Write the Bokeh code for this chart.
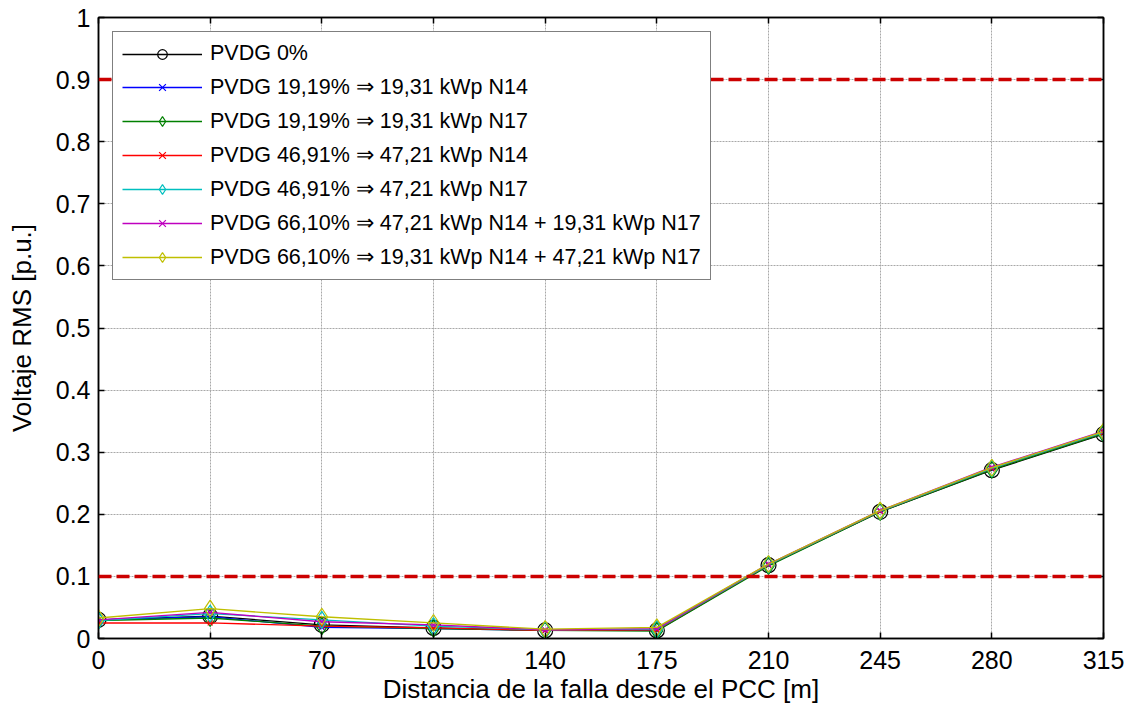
from bokeh.plotting import figure
from bokeh.models import Range1d, LinearAxis, FixedTicker, Legend, LegendItem, Span
from bokeh.embed import file_html
from bokeh.resources import INLINE

x = [0, 35, 70, 105, 140, 175, 210, 245, 280, 315]
s_pv0 = [0.030, 0.036, 0.022, 0.017, 0.013, 0.013, 0.118, 0.204, 0.271, 0.329]
s_19_n14 = [0.030, 0.035, 0.018, 0.016, 0.013, 0.013, 0.118, 0.205, 0.273, 0.331]
s_19_n17 = [0.029, 0.033, 0.020, 0.016, 0.013, 0.012, 0.117, 0.204, 0.272, 0.330]
s_47_n14 = [0.025, 0.025, 0.020, 0.017, 0.013, 0.014, 0.119, 0.205, 0.274, 0.332]
s_47_n17 = [0.029, 0.040, 0.030, 0.020, 0.014, 0.015, 0.119, 0.205, 0.274, 0.332]
s_66_a = [0.030, 0.042, 0.027, 0.022, 0.014, 0.016, 0.120, 0.206, 0.276, 0.334]
s_66_b = [0.033, 0.048, 0.035, 0.025, 0.015, 0.018, 0.120, 0.206, 0.275, 0.333]
limits = [0.1, 0.9]

labels = ["PVDG 0%",
          "PVDG 19,19% \u21d2 19,31 kWp N14",
          "PVDG 19,19% \u21d2 19,31 kWp N17",
          "PVDG 46,91% \u21d2 47,21 kWp N14",
          "PVDG 46,91% \u21d2 47,21 kWp N17",
          "PVDG 66,10% \u21d2 47,21 kWp N14 + 19,31 kWp N17",
          "PVDG 66,10% \u21d2 19,31 kWp N14 + 47,21 kWp N17"]
series = [s_pv0, s_19_n14, s_19_n17, s_47_n14, s_47_n17, s_66_a, s_66_b]
colors = ["#000000", "#0000ff", "#008000", "#ff0000", "#00bfbf", "#bf00bf", "#bfbf00"]
markers = ["circle", "x", "diamond", "x", "diamond", "x", "diamond"]
sizes = [15, 7, 17, 7, 17, 7, 17]

FONT = "Liberation Sans"

p = figure(width=1133, height=710, output_backend="svg", toolbar_location=None,
           x_range=Range1d(0, 315), y_range=Range1d(0, 1),
           min_border_left=98, min_border_right=30, min_border_top=17, min_border_bottom=72)
p.outline_line_color = "black"
p.outline_line_width = 1.5
p.background_fill_color = "white"
p.border_fill_color = "white"

p.xaxis.ticker = FixedTicker(ticks=x)
p.yaxis.ticker = FixedTicker(ticks=[i / 10 for i in range(11)])
p.yaxis.major_label_overrides = {0: "0", 1: "1"}
for ax in [p.xaxis[0], p.yaxis[0]]:
    ax.major_tick_in = 6
    ax.major_tick_out = 0
    ax.minor_tick_in = 0
    ax.minor_tick_out = 0
    ax.major_label_text_font = FONT
    ax.major_label_text_font_size = "25px"
    ax.major_label_text_color = "black"
    ax.axis_label_text_font = FONT
    ax.axis_label_text_font_size = "26px"
    ax.axis_label_text_font_style = "normal"
    ax.axis_label_text_color = "black"
    ax.axis_line_width = 1.5
    ax.major_tick_line_width = 1.5
p.xaxis.axis_label = "Distancia de la falla desde el PCC [m]"
p.yaxis.axis_label = "Voltaje RMS [p.u.]"
p.xaxis.major_label_standoff = 12
p.yaxis.major_label_standoff = 8
p.xaxis.axis_label_standoff = 2
p.yaxis.axis_label_standoff = 16

for loc, tk in [("right", [i / 10 for i in range(11)]), ("above", x)]:
    ax = LinearAxis(ticker=FixedTicker(ticks=tk), major_label_text_font_size="0px",
                    major_tick_in=6, major_tick_out=0, minor_tick_in=0, minor_tick_out=0,
                    axis_line_width=1.5, major_tick_line_width=1.5, major_label_standoff=0)
    p.add_layout(ax, loc)

p.grid.grid_line_color = "#a8a8a8"
p.grid.grid_line_dash = "2 1"
p.grid.grid_line_width = 1

for lv in limits:
    p.add_layout(Span(location=lv, dimension="width", line_color="#cc0000",
                      line_width=3.5, line_dash="13 5"))

items = []
for lab, s, c, m, sz in zip(labels, series, colors, markers, sizes):
    r1 = p.line(x, s, line_color=c, line_width=1.3)
    r2 = p.scatter(x, s, marker=m, size=sz, line_color=c, fill_color=None, line_width=1.2)
    items.append(LegendItem(label=lab, renderers=[r1, r2]))

leg = Legend(items=items, location="top_left", glyph_width=80, glyph_height=24,
             label_text_font=FONT, label_text_font_size="21.5px", label_text_color="black",
             spacing=8, padding=9, margin=14, label_standoff=8, label_height=24,
             border_line_color="black", border_line_width=1.2,
             background_fill_alpha=1.0)
p.add_layout(leg)

open("out.html", "w").write(file_html(p, INLINE))
